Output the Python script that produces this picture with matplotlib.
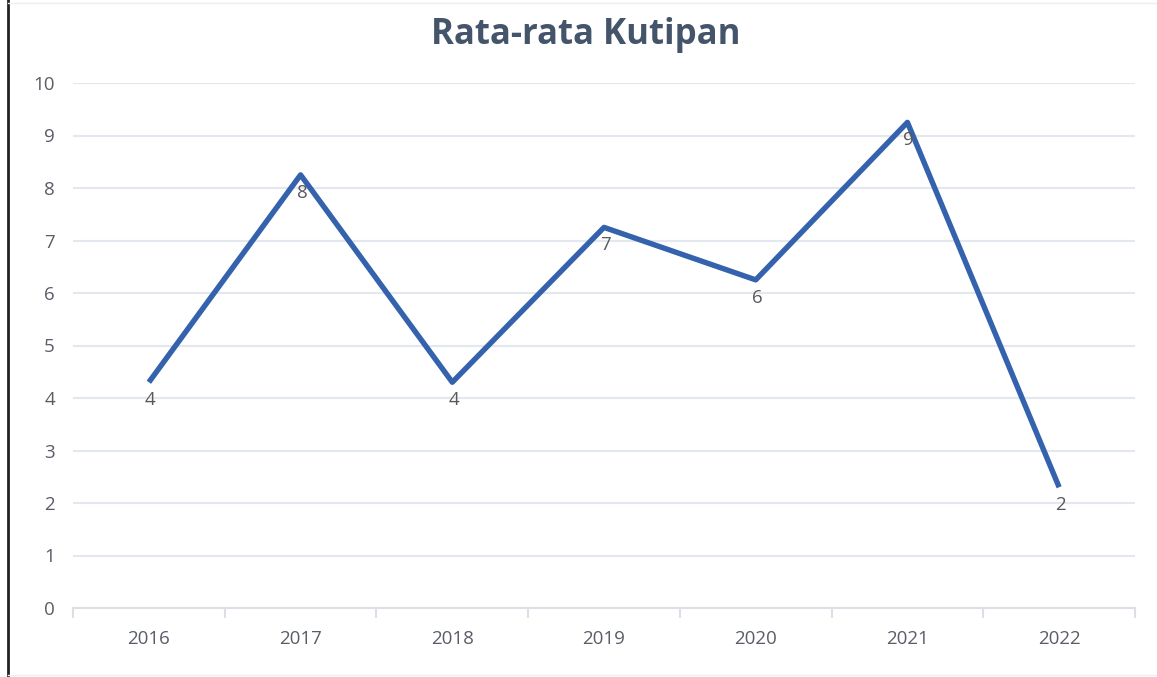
import matplotlib.pyplot as plt
from matplotlib.lines import Line2D

# data
years = ["2016", "2017", "2018", "2019", "2020", "2021", "2022"]
kutipan = [4.3, 8.25, 4.3, 7.25, 6.25, 9.25, 2.3]

plt.rcParams['font.family'] = ['Open Sans', 'DejaVu Sans']

fig = plt.figure(figsize=(11.57, 6.77), dpi=100)
ax = fig.add_axes([73/1157, 1 - 608/677, (1135 - 73)/1157, (608 - 83)/677])

x = list(range(len(years)))
ax.plot(x, kutipan, color='#3462ad', lw=3.9, solid_joinstyle='round', solid_capstyle='butt')

# labels sous les points
for xi, v in zip(x, kutipan):
    ax.annotate(f"{v:.0f}", (xi, v), xytext=(1, -13), textcoords='offset points',
                ha='center', va='center', fontsize=13.5, color='#595959')

ax.set_xlim(-0.5, len(years) - 0.5)
ax.set_ylim(0, 10)
ax.set_yticks(range(0, 11))
ax.set_xticks(x)
ax.set_xticklabels(years)
ax.set_xticks([i - 0.5 for i in range(len(years) + 1)], minor=True)

ax.grid(axis='y', color='#e3e7ee', lw=1.5)
ax.set_axisbelow(True)
for s in ['left', 'right', 'top']:
    ax.spines[s].set_visible(False)
ax.spines['bottom'].set_color('#dcdfe5')
ax.spines['bottom'].set_linewidth(1.5)

ax.tick_params(axis='y', length=0, pad=13, labelsize=13.5, labelcolor='#595d66')
ax.tick_params(axis='x', which='major', length=0, pad=16, labelsize=13.5, labelcolor='#595d66')
ax.tick_params(axis='x', which='minor', length=7, width=1.5, color='#dcdfe5')

fig.text(586/1157, 1 - 35/677, "Rata-rata Kutipan", ha='center', va='center',
         fontsize=25, fontweight='bold', color='#44546a')

# bordures de la capture
fig.add_artist(Line2D([8/1157, 8/1157], [0, 1], color='#222222', lw=2))
fig.add_artist(Line2D([8/1157, 1], [1 - 3/677, 1 - 3/677], color='#eeeeee', lw=1))
fig.add_artist(Line2D([8/1157, 1], [1 - 675/677, 1 - 675/677], color='#eeeeee', lw=1))

fig.savefig("out.png", dpi=100)
